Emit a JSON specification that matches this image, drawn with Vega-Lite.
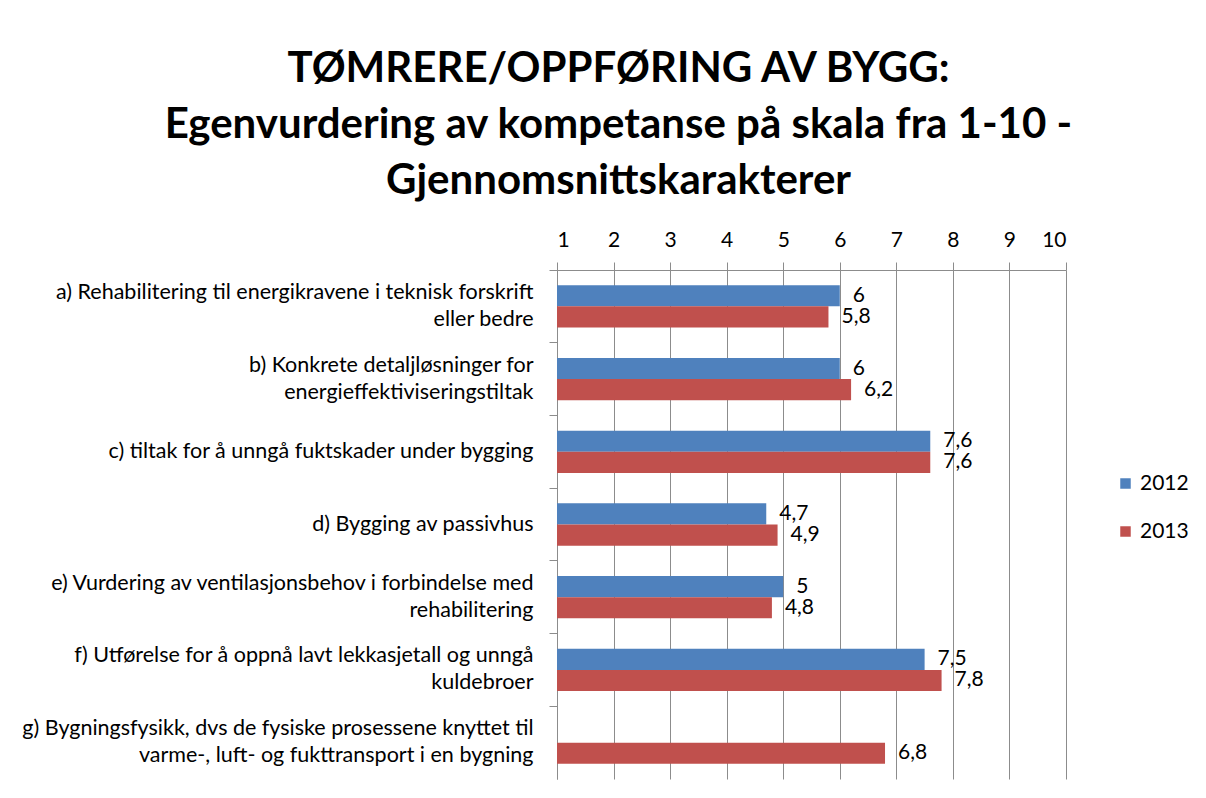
{
  "$schema": "https://vega.github.io/schema/vega-lite/v6.json",
  "width": 509,
  "height": 509,
  "autosize": {"type": "none"},
  "padding": {"left": 557, "top": 270, "right": 140, "bottom": 19},
  "background": "white",
  "config": {
    "locale": {"number": {"decimal": ",", "thousands": " ", "grouping": [3], "currency": ["", ""]}},
    "view": {"stroke": null},
    "font": "Lato"
  },
  "title": {
    "text": ["TØMRERE/OPPFØRING AV BYGG:", "Egenvurdering av kompetanse på skala fra 1-10 -", "Gjennomsnittskarakterer"],
    "fontSize": 42,
    "fontWeight": "bold",
    "font": "Lato",
    "color": "#000000",
    "lineHeight": 56,
    "anchor": "middle",
    "dx": -193,
    "offset": 26
  },
  "data": {
    "values": [
      {"cat": "a) Rehabilitering til energikravene i teknisk forskrift|eller bedre", "year": "2012", "value": 6},
      {"cat": "a) Rehabilitering til energikravene i teknisk forskrift|eller bedre", "year": "2013", "value": 5.8},
      {"cat": "b) Konkrete detaljløsninger for|energieffektiviseringstiltak", "year": "2012", "value": 6},
      {"cat": "b) Konkrete detaljløsninger for|energieffektiviseringstiltak", "year": "2013", "value": 6.2},
      {"cat": "c) tiltak for å unngå fuktskader under bygging", "year": "2012", "value": 7.6},
      {"cat": "c) tiltak for å unngå fuktskader under bygging", "year": "2013", "value": 7.6},
      {"cat": "d) Bygging av passivhus", "year": "2012", "value": 4.7},
      {"cat": "d) Bygging av passivhus", "year": "2013", "value": 4.9},
      {"cat": "e) Vurdering av ventilasjonsbehov i forbindelse med|rehabilitering", "year": "2012", "value": 5},
      {"cat": "e) Vurdering av ventilasjonsbehov i forbindelse med|rehabilitering", "year": "2013", "value": 4.8},
      {"cat": "f) Utførelse for å oppnå lavt lekkasjetall og unngå|kuldebroer", "year": "2012", "value": 7.5},
      {"cat": "f) Utførelse for å oppnå lavt lekkasjetall og unngå|kuldebroer", "year": "2013", "value": 7.8},
      {"cat": "g) Bygningsfysikk, dvs de fysiske prosessene knyttet til|varme-, luft- og fukttransport i en bygning", "year": "2013", "value": 6.8}
    ]
  },
  "encoding": {
    "y": {
      "field": "cat",
      "type": "nominal",
      "sort": null,
      "scale": {"paddingInner": 0, "paddingOuter": 0},
      "axis": {
        "title": null,
        "bandPosition": 0,
        "grid": false,
        "domainColor": "#8c8c8c",
        "tickColor": "#8c8c8c",
        "tickSize": 8,
        "labelPadding": 16,
        "labelFontSize": 21.5,
        "labelColor": "#000000",
        "labelLimit": 600,
        "labelLineHeight": 27,
        "labelOffset": {"condition": {"test": "indexof(datum.value, '|') >= 0", "value": -13.5}, "value": 0},
        "labelExpr": "split(datum.value, '|')"
      }
    },
    "yOffset": {
      "field": "year",
      "type": "nominal",
      "sort": ["2012", "2013"],
      "scale": {"paddingInner": 0, "paddingOuter": 0.72}
    },
    "x": {
      "field": "value",
      "type": "quantitative",
      "scale": {"domain": [1, 10], "nice": false, "zero": false},
      "axis": {
        "orient": "top",
        "title": null,
        "values": [1, 2, 3, 4, 5, 6, 7, 8, 9, 10],
        "grid": true,
        "gridColor": "#8c8c8c",
        "domainColor": "#8c8c8c",
        "tickColor": "#8c8c8c",
        "tickSize": 8,
        "labelPadding": 12,
        "labelFontSize": 21,
        "labelColor": "#000000",
        "format": "d"
      }
    }
  },
  "layer": [
    {
      "mark": {"type": "bar"},
      "encoding": {
        "x2": {"datum": 1},
        "color": {
          "field": "year",
          "type": "nominal",
          "scale": {"domain": ["2012", "2013"], "range": ["#4F81BD", "#C0504D"]},
          "legend": {
            "title": null,
            "orient": "none",
            "legendX": 558,
            "legendY": 203,
            "symbolType": "square",
            "symbolSize": 110,
            "symbolStrokeWidth": 0,
            "labelFontSize": 21,
            "labelColor": "#000000",
            "rowPadding": 26,
            "labelOffset": 4
          }
        }
      }
    },
    {
      "mark": {"type": "text", "align": "left", "baseline": "middle", "dx": 13, "fontSize": 21, "color": "#000000"},
      "encoding": {
        "text": {"field": "value", "type": "quantitative", "format": ".1~f"}
      }
    }
  ]
}
